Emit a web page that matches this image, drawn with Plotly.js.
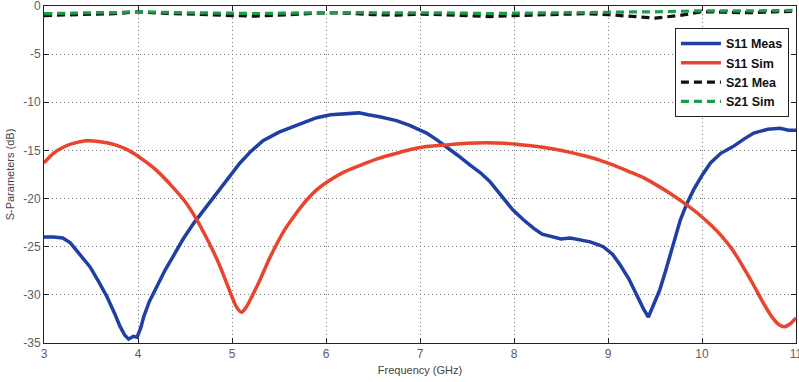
<!DOCTYPE html>
<html>
<head>
<meta charset="utf-8">
<script src="https://cdn.plot.ly/plotly-3.0.1.min.js"></script>
<style>html,body{margin:0;padding:0;background:#fff;}#chart{width:799px;height:382px;}</style>
</head>
<body>
<div id="chart"></div>
<script>
const s11MeasFreq = [3.0,3.1,3.2,3.28,3.38,3.49,3.58,3.67,3.75,3.81,3.86,3.90,3.95,3.99,4.03,4.06,4.12,4.20,4.29,4.38,4.48,4.59,4.70,4.80,4.90,4.98,5.085,5.2,5.33,5.5,5.69,5.9,6.05,6.22,6.35,6.45,6.57,6.75,6.89,7.0,7.07,7.18,7.28,7.4,7.53,7.64,7.74,7.87,7.99,8.1,8.21,8.3,8.42,8.5,8.6,8.7,8.81,8.9,8.95,9.05,9.13,9.22,9.31,9.38,9.43,9.49,9.55,9.61,9.66,9.72,9.77,9.84,9.91,10.0,10.09,10.2,10.33,10.45,10.55,10.7,10.83,10.92,11.0];
const s11MeasVal = [-24.0,-24.0,-24.1,-24.6,-25.8,-27.1,-28.6,-30.2,-31.9,-33.3,-34.2,-34.6,-34.3,-34.4,-33.4,-32.3,-30.7,-29.1,-27.4,-25.9,-24.2,-22.6,-21.2,-19.8,-18.6,-17.5,-16.3,-15.1,-14.0,-13.1,-12.4,-11.6,-11.3,-11.15,-11.1,-11.3,-11.5,-11.9,-12.4,-12.9,-13.2,-13.9,-14.6,-15.5,-16.5,-17.3,-18.2,-19.7,-21.2,-22.2,-23.1,-23.7,-24.0,-24.2,-24.1,-24.3,-24.5,-24.8,-25.0,-25.8,-26.9,-28.3,-30.2,-31.5,-32.3,-31.0,-29.5,-27.6,-26.0,-24.0,-22.2,-20.5,-19.1,-17.6,-16.3,-15.3,-14.6,-13.8,-13.2,-12.8,-12.7,-12.9,-12.9];

const s11SimFreq = [3.0,3.1,3.2,3.3,3.45,3.6,3.75,3.9,4.0,4.1,4.2,4.35,4.5,4.62,4.73,4.84,4.92,5.0,5.05,5.1,5.15,5.22,5.3,5.4,5.55,5.67,5.79,5.9,6.04,6.2,6.4,6.57,6.75,6.9,7.07,7.3,7.5,7.71,7.9,8.06,8.25,8.42,8.6,8.77,8.91,9.05,9.2,9.35,9.5,9.65,9.8,9.95,10.1,10.2,10.33,10.45,10.55,10.65,10.76,10.82,10.88,10.94,11.0];
const s11SimVal = [-16.3,-15.3,-14.7,-14.3,-14.0,-14.1,-14.4,-15.0,-15.6,-16.3,-17.1,-18.6,-20.3,-22.1,-24.1,-26.3,-28.2,-30.2,-31.3,-31.8,-31.3,-30.0,-28.4,-26.2,-23.4,-21.7,-20.2,-19.1,-18.1,-17.2,-16.4,-15.8,-15.3,-14.9,-14.6,-14.4,-14.25,-14.2,-14.25,-14.4,-14.6,-14.85,-15.2,-15.6,-16.0,-16.5,-17.1,-17.7,-18.5,-19.4,-20.4,-21.5,-22.8,-23.8,-25.4,-27.3,-29.0,-30.8,-32.5,-33.1,-33.3,-33.0,-32.4];

const s21Freq = [3.0,3.25,3.5,3.75,4.0,4.25,4.5,4.75,5.0,5.25,5.5,5.75,6.0,6.25,6.5,6.75,7.0,7.25,7.5,7.75,8.0,8.25,8.5,8.75,9.0,9.25,9.5,9.75,10.0,10.25,10.5,10.75,11.0];
const s21MeaVal = [-1.0,-0.9,-0.85,-0.8,-0.6,-0.75,-0.8,-0.9,-1.0,-1.05,-0.95,-0.85,-0.7,-0.75,-0.9,-0.95,-0.85,-0.9,-1.0,-1.1,-1.0,-0.95,-0.9,-0.8,-0.9,-1.1,-1.25,-1.0,-0.6,-0.65,-0.7,-0.6,-0.55];
const s21SimVal = [-0.8,-0.75,-0.7,-0.68,-0.6,-0.65,-0.7,-0.72,-0.75,-0.78,-0.75,-0.72,-0.7,-0.68,-0.7,-0.72,-0.7,-0.72,-0.75,-0.78,-0.75,-0.72,-0.7,-0.68,-0.65,-0.62,-0.6,-0.55,-0.5,-0.5,-0.5,-0.48,-0.45];

const xTicks = [3,4,5,6,7,8,9,10,11];
const yTicks = [0,-5,-10,-15,-20,-25,-30,-35];

const traces = [
  {x: s11MeasFreq, y: s11MeasVal, name: 'S11 Meas', mode: 'lines', line: {color: '#1f3fa3', width: 3.5}},
  {x: s11SimFreq, y: s11SimVal, name: 'S11 Sim', mode: 'lines', line: {color: '#e8452f', width: 3.5, shape: 'spline', smoothing: 0.8}},
  {x: s21Freq, y: s21MeaVal, name: 'S21 Mea', mode: 'lines', line: {color: '#111111', width: 3.2, dash: '8px,5px'}},
  {x: s21Freq, y: s21SimVal, name: 'S21 Sim', mode: 'lines', line: {color: '#1b9c4a', width: 3.2, dash: '8px,5px', shape: 'spline'}}
];

const axisCommon = {
  showline: true, linecolor: '#222', linewidth: 1, mirror: 'ticks',
  ticks: 'inside', ticklen: 5, tickcolor: '#222',
  showgrid: true, gridcolor: '#777', griddash: '1px,3px', gridwidth: 1,
  zeroline: false, ticklabeloverflow: 'allow',
  tickfont: {family: 'Liberation Sans, Arial, sans-serif', size: 12, color: '#606060'}
};

const layout = {
  width: 799, height: 382,
  margin: {l: 44, r: 3, t: 6, b: 39},
  paper_bgcolor: '#ffffff', plot_bgcolor: '#ffffff',
  showlegend: true,
  legend: {
    x: 0.839, y: 0.935, xanchor: 'left', yanchor: 'top',
    bgcolor: '#ffffff', bordercolor: '#222', borderwidth: 1,
    font: {family: 'Liberation Sans, Arial, sans-serif', size: 12.5, color: '#111', weight: 'bold'},
    tracegroupgap: 0, itemwidth: 40
  },
  xaxis: Object.assign({}, axisCommon, {
    range: [3, 11], tickvals: xTicks, ticktext: xTicks.map(String),
    title: {text: 'Frequency (GHz)', standoff: 5, font: {family: 'Liberation Sans, Arial, sans-serif', size: 11, color: '#444'}}
  }),
  yaxis: Object.assign({}, axisCommon, {
    range: [-35, 0], tickvals: yTicks, ticktext: yTicks.map(String),
    title: {text: 'S-Parameters (dB)', standoff: 6, font: {family: 'Liberation Sans, Arial, sans-serif', size: 11, color: '#444'}}
  })
};

Plotly.newPlot('chart', traces, layout, {displayModeBar: false, staticPlot: true});
</script>
</body>
</html>
